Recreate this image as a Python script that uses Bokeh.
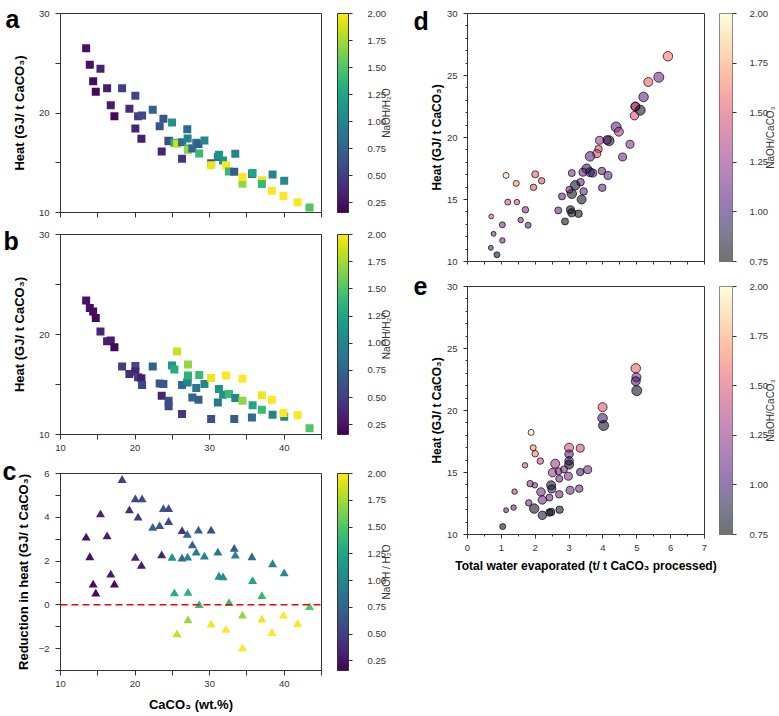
import math
from bokeh.plotting import figure
from bokeh.models import (ColumnDataSource, LinearColorMapper, ColorBar, FixedTicker,
                          Label, Span, PrintfTickFormatter, Range1d)
from bokeh.layouts import row, column
from bokeh.palettes import Viridis256, Magma256
from bokeh.embed import file_html
from bokeh.resources import INLINE

FONT = "Liberation Sans"

# ---------------- data: panels a, b, c ----------------
caco3 = [13.44, 13.93, 14.38, 14.73, 15.36, 16.25, 16.74, 17.23, 18.26, 19.24,
         20.04, 20.04, 20.40, 20.85, 20.94, 22.37, 23.30, 23.57, 23.80, 24.50,
         24.50, 24.96, 25.27, 25.63, 26.30, 26.30, 27.00, 27.05, 27.10, 27.10,
         27.68, 28.20, 28.50, 28.60, 29.30, 30.20, 30.20, 31.10, 31.25, 31.80,
         32.20, 32.60, 33.30, 33.44, 34.40, 34.40, 35.67, 35.76, 37.00, 37.00,
         38.35, 38.44, 40.00, 39.90, 41.80, 43.40]
naoh_h2o = [0.25, 0.25, 0.22, 0.20, 0.35, 0.30, 0.30, 0.20, 0.50, 0.40,
            0.55, 0.35, 0.50, 0.30, 0.55, 0.75, 0.65, 0.35, 0.65, 0.55,
            0.60, 1.10, 1.30, 1.85, 0.45, 0.80, 0.80, 1.00, 1.35, 1.70,
            0.75, 0.90, 0.70, 1.40, 1.00, 0.60, 1.95, 0.90, 1.10, 1.10,
            2.00, 1.40, 0.70, 1.00, 1.70, 2.00, 0.80, 1.25, 1.95, 1.40,
            2.00, 1.00, 1.05, 2.00, 2.00, 1.50]
heat_a = [26.52, 24.84, 23.20, 22.13, 24.44, 22.50, 20.79, 19.68, 22.50, 20.42,
          21.73, 18.44, 19.68, 17.40, 19.75, 20.32, 18.68, 16.13, 19.41, 17.20,
          17.15, 19.05, 17.00, 16.90, 15.39, 17.05, 18.37, 17.43, 16.42, 16.30,
          16.43, 17.02, 16.88, 15.93, 17.24, 14.95, 14.75, 15.58, 15.80, 15.22,
          14.75, 14.12, 14.10, 15.90, 12.88, 13.58, 13.86, 13.97, 13.25, 12.86,
          12.18, 13.82, 13.20, 11.67, 11.04, 10.50]
heat_b = [23.41, 22.64, 22.31, 21.64, 20.30, 19.33, 19.40, 18.73, 16.79, 16.05,
          16.86, 16.29, 15.72, 15.62, 14.95, 16.79, 15.10, 13.88, 15.05, 12.82,
          13.38, 16.89, 16.49, 18.29, 12.04, 14.95, 15.19, 15.29, 15.89, 17.00,
          13.70, 14.65, 13.48, 15.96, 15.05, 11.54, 15.66, 13.21, 14.55, 13.98,
          15.90, 14.06, 11.54, 13.65, 13.38, 15.57, 11.70, 12.92, 13.92, 12.48,
          13.48, 11.98, 11.78, 12.16, 11.93, 10.62]
reduction = [3.06, 2.16, 0.91, 0.50, 4.12, 3.11, 1.37, 0.91, 5.69, 4.30,
             4.80, 2.13, 3.97, 1.77, 4.80, 3.50, 3.58, 2.25, 4.36, 4.36,
             3.77, 2.13, 0.51, -1.36, 3.35, 2.10, 3.18, 2.14, 0.53, -0.72,
             2.70, 2.37, 3.38, -0.03, 2.19, 3.38, -0.92, 2.37, 1.27, 1.24,
             -1.16, 0.06, 2.54, 2.23, -0.51, -2.00, 2.16, 1.07, -0.69, 0.38,
             -1.30, 1.84, 1.42, -0.51, -0.89, -0.12]

# ---------------- data: panel d ----------------
d_water = [5.92, 5.65, 5.34, 5.20, 4.96, 4.96, 5.10, 4.93, 4.39, 4.47,
           4.18, 4.12, 3.90, 3.87, 3.82, 3.62, 4.80, 4.58, 3.52, 3.62,
           3.70, 3.41, 3.08, 3.97, 4.15, 3.34, 3.18, 3.08, 3.01, 3.43,
           3.37, 2.79, 3.98, 3.04, 3.08, 3.28, 2.68, 2.88, 1.14, 2.00,
           1.44, 1.95, 2.19, 1.19, 1.46, 1.71, 1.57, 1.79, 1.03, 0.70,
           0.77, 1.03, 0.69, 0.87]
d_heat = [26.55, 24.86, 24.48, 23.27, 22.50, 22.50, 22.20, 21.76, 20.85, 20.47,
          19.74, 19.80, 19.77, 19.07, 18.70, 18.48, 19.45, 18.43, 17.48, 17.20,
          17.13, 17.20, 17.13, 17.30, 16.94, 16.40, 16.14, 15.46, 15.79, 15.65,
          15.00, 15.25, 15.95, 14.17, 13.93, 13.85, 14.12, 13.23, 16.94, 17.03,
          16.30, 15.98, 16.51, 14.79, 14.79, 14.17, 13.34, 12.93, 12.96, 13.63,
          12.23, 11.70, 11.10, 10.54]
d_naoh_caco3 = [1.60, 1.15, 1.55, 1.10, 1.00, 1.50, 0.80, 1.50, 1.10, 1.30,
                0.80, 1.10, 1.30, 1.50, 1.50, 1.10, 1.20, 1.15, 0.90, 0.95,
                1.00, 1.10, 1.20, 1.15, 1.10, 1.10, 0.80, 0.80, 1.15, 1.10,
                0.80, 1.10, 1.10, 0.80, 0.80, 0.80, 1.10, 0.80, 1.90, 1.55,
                1.70, 1.50, 1.50, 1.50, 1.50, 1.20, 1.20, 1.10, 1.20, 1.50,
                1.15, 1.15, 1.10, 0.80]
d_naoh_h2o = [0.41, 0.25, 0.57, 0.41, 0.57, 0.73, 0.25, 0.73, 0.25, 0.57,
              0.25, 0.73, 0.89, 1.05, 0.89, 0.41, 0.89, 0.89, 0.41, 0.57,
              0.89, 0.89, 1.21, 1.05, 0.89, 1.05, 0.41, 0.41, 1.21, 1.05,
              0.57, 1.21, 1.05, 0.89, 0.89, 1.05, 1.21, 1.21, 1.53, 1.21,
              1.53, 1.37, 1.37, 1.53, 1.69, 1.37, 1.69, 1.53, 1.53, 1.91,
              1.85, 1.69, 1.85, 1.53]

# ---------------- data: panel e ----------------
e_water = [4.97, 4.99, 4.97, 5.00, 3.99, 3.99, 4.02, 1.88, 1.94, 2.00,
           2.15, 1.70, 3.00, 3.00, 3.00, 3.00, 3.33, 3.33, 3.55, 2.59,
           2.51, 2.69, 2.85, 2.71, 2.98, 2.47, 2.49, 2.17, 1.85, 1.99,
           1.39, 3.03, 3.30, 2.71, 2.42, 2.21, 1.81, 1.97, 2.21, 2.42,
           2.47, 2.72, 1.14, 1.36, 1.04]
e_heat = [23.40, 22.68, 22.36, 21.60, 20.27, 19.38, 18.79, 18.23, 17.00, 16.51,
          15.92, 15.58, 17.00, 16.48, 15.94, 15.64, 16.96, 15.04, 15.23, 15.71,
          14.99, 15.10, 15.25, 14.50, 14.70, 13.97, 13.67, 13.43, 14.10, 13.97,
          13.46, 13.57, 13.70, 13.24, 12.98, 12.79, 12.55, 12.09, 11.55, 11.77,
          11.82, 12.00, 11.96, 12.17, 10.64]
e_naoh_caco3 = [1.55, 1.20, 1.00, 0.80, 1.50, 1.00, 0.80, 1.95, 1.70, 1.65,
                1.45, 1.50, 1.50, 1.10, 1.00, 0.80, 1.45, 1.00, 1.15, 1.30,
                1.30, 1.15, 1.20, 1.15, 1.20, 0.85, 0.90, 1.15, 1.20, 1.25,
                1.35, 1.15, 1.15, 1.15, 1.15, 1.15, 1.15, 0.80, 0.85, 0.85,
                0.80, 0.80, 1.15, 1.15, 0.80]
e_naoh_h2o = [0.41, 0.57, 0.57, 0.25, 0.57, 0.41, 0.25, 1.53, 1.53, 1.37,
              1.37, 1.69, 0.57, 0.73, 0.73, 0.57, 0.89, 1.05, 0.89, 0.57,
              0.73, 1.21, 1.21, 1.21, 0.89, 0.57, 0.89, 0.73, 1.37, 1.69,
              1.69, 0.89, 1.05, 1.05, 1.21, 0.73, 1.37, 0.41, 0.73, 1.05,
              1.05, 1.05, 1.85, 1.69, 1.53]

cbar_ticks_left = [0.25, 0.50, 0.75, 1.00, 1.25, 1.50, 1.75, 2.00]
cbar_ticks_right = [0.75, 1.00, 1.25, 1.50, 1.75, 2.00]

AX = "#333333"
SLOT = 12   # width taken in the right side panel by the colour-bar title label


def marker_size(v):
    # circle diameter (px) shrinks with NaOH/H2O
    return 10.8 - 3.14 * v


def base_fig(fw, fh, bl, br, bt, bb, xr, yr):
    p = figure(frame_width=fw, frame_height=fh, min_border_left=bl, min_border_right=br,
               min_border_top=bt, min_border_bottom=bb,
               x_range=Range1d(*xr), y_range=Range1d(*yr),
               output_backend="svg", toolbar_location=None, tools="")
    p.xgrid.visible = False
    p.ygrid.visible = False
    p.outline_line_color = AX
    p.outline_line_width = 1
    p.outline_line_alpha = 1
    p.background_fill_color = "white"
    p.border_fill_color = "white"
    for ax in (p.xaxis[0], p.yaxis[0]):
        ax.axis_line_color = AX
        ax.major_tick_line_color = AX
        ax.minor_tick_line_color = AX
        ax.major_tick_in = 0
        ax.minor_tick_in = 0
        ax.major_label_text_font = FONT
        ax.major_label_text_font_size = "9.5px"
        ax.major_label_text_color = AX
        ax.axis_label_text_font = FONT
        ax.axis_label_text_font_style = "bold"
        ax.axis_label_text_color = "black"
    return p


def add_label(p, text, sx, sy, size, bold=False, angle=0.0, align="left",
              baseline="alphabetic", color="black"):
    # placed in the right side panel so it is not clipped to the frame;
    # sx is measured from the panel slot's left edge, sy from the frame's bottom
    p.add_layout(Label(x=sx, y=sy, x_units="screen", y_units="screen", text=text,
                       text_font=FONT, text_font_size=size,
                       text_font_style="bold" if bold else "normal",
                       angle=angle, text_align=align, text_baseline=baseline,
                       text_color=color), "right")


def add_cbar(p, mapper, ticks, x_off, width, standoff, alpha=1.0):
    cb = ColorBar(color_mapper=mapper, ticker=FixedTicker(ticks=ticks),
                  formatter=PrintfTickFormatter(format="%.2f"),
                  location=(x_off, 0), width=width, height=p.frame_height,
                  padding=0, margin=0, major_tick_in=0, major_tick_out=4,
                  major_tick_line_color=AX, minor_tick_line_color=None,
                  bar_line_color=AX, bar_line_width=1, border_line_color=None,
                  background_fill_color=None, background_fill_alpha=0,
                  major_label_text_font=FONT, major_label_text_font_size="9.5px",
                  major_label_text_color=AX, label_standoff=standoff, scale_alpha=alpha)
    p.add_layout(cb, "center")


vir = LinearColorMapper(palette=Viridis256, low=0.16, high=2.0)
mag = LinearColorMapper(palette=Magma256, low=0.75, high=2.0)

src_abc = ColumnDataSource(dict(x=caco3, r=naoh_h2o, a=heat_a, b=heat_b, c=reduction))

# ---------------- left column ----------------
LW, LBL, LBR = 261, 60, 74
LFR = 321  # frame right edge (page px)


def left_axes(p, ymaj, ymin, xlabels=True, ylab_standoff=9):
    if xlabels:
        p.xaxis.ticker = FixedTicker(ticks=[10, 20, 30, 40], minor_ticks=[15, 25, 35, 45])
    else:
        p.xaxis.ticker = FixedTicker(ticks=[], minor_ticks=[10, 15, 20, 25, 30, 35, 40, 45])
    p.yaxis.ticker = FixedTicker(ticks=ymaj, minor_ticks=ymin)
    for ax in (p.xaxis[0], p.yaxis[0]):
        ax.major_tick_out = 5
        ax.minor_tick_out = 5
    p.yaxis.major_label_standoff = 6
    p.yaxis.axis_label_standoff = ylab_standoff
    p.yaxis.axis_label_text_font_size = "13px"
    p.xaxis.axis_label_text_font_size = "13px"
    p.xaxis.major_label_standoff = 5


# panel a  (page: frame top 13, bottom 212; figure 0..219)
pa = base_fig(LW, 199, LBL, LBR, 13, 7, (10, 45), (10, 30))
left_axes(pa, [10, 20, 30], [15, 25], xlabels=False)
pa.yaxis.axis_label = "Heat (GJ/ t CaCO₃)"
pa.scatter("x", "a", source=src_abc, marker="square", size=8,
           fill_color={"field": "r", "transform": vir}, line_color=None)
add_cbar(pa, vir, cbar_ticks_left, 277, 11, 15)
add_label(pa, "NaOH/H₂O", 65, 99.5, "10px", angle=math.pi / 2, align="center",
          baseline="middle", color=AX)
add_label(pa, "a", 6 - LFR - SLOT, 193.5, "25px", bold=True)

# panel b  (page: frame top 234, bottom 434; figure 219..456)
pb = base_fig(LW, 200, LBL, LBR, 15, 22, (10, 45), (10, 30))
left_axes(pb, [10, 20, 30], [15, 25])
pb.yaxis.axis_label = "Heat (GJ/ t CaCO₃)"
pb.scatter("x", "b", source=src_abc, marker="square", size=8,
           fill_color={"field": "r", "transform": vir}, line_color=None)
add_cbar(pb, vir, cbar_ticks_left, 277, 11, 15)
add_label(pb, "NaOH/H₂O", 65, 100, "10px", angle=math.pi / 2, align="center",
          baseline="middle", color=AX)
add_label(pb, "b", 4 - LFR - SLOT, 194, "25px", bold=True)

# panel c  (page: frame top 473, bottom 670)
pc = base_fig(LW, 197, LBL, LBR, 17, 42, (10, 45), (-3, 6))
left_axes(pc, [-2, 0, 2, 4, 6], [-3, -1, 1, 3, 5], ylab_standoff=5)
pc.yaxis.major_label_overrides = {-2: "−2"}
pc.yaxis.axis_label = "Reduction in heat (GJ/ t CaCO₃)"
pc.xaxis.axis_label = "CaCO₃ (wt.%)"
pc.xaxis.axis_label_standoff = 7
pc.add_layout(Span(location=0, dimension="width", line_color="red",
                   line_dash="7 4", line_width=1.5))
pc.scatter("x", "c", source=src_abc, marker="triangle", size=9,
           fill_color={"field": "r", "transform": vir}, line_color=None)
add_cbar(pc, vir, cbar_ticks_left, 277, 11, 15)
add_label(pc, "NaOH / H₂O", 65, 98.5, "10px", angle=math.pi / 2, align="center",
          baseline="middle", color=AX)
add_label(pc, "c", 3 - LFR - SLOT, 200, "25px", bold=True)

# ---------------- right column ----------------
RW, RBL, RBR = 237, 72, 75
RFR = 704  # frame right edge (page px)


def right_axes(p, xlabels=True):
    if xlabels:
        p.xaxis.ticker = FixedTicker(ticks=[0, 1, 2, 3, 4, 5, 6, 7],
                                     minor_ticks=[0.5, 1.5, 2.5, 3.5, 4.5, 5.5, 6.5])
    else:
        p.xaxis.ticker = FixedTicker(ticks=[], minor_ticks=[i * 0.5 for i in range(15)])
    p.yaxis.ticker = FixedTicker(ticks=[10, 15, 20, 25, 30],
                                 minor_ticks=[v for v in range(11, 30) if v % 5])
    for ax in (p.xaxis[0], p.yaxis[0]):
        ax.major_tick_out = 4
        ax.minor_tick_out = 2
    if not xlabels:
        p.xaxis.minor_tick_out = 3
    p.yaxis.major_label_standoff = 6
    p.yaxis.axis_label_standoff = 0
    p.yaxis.axis_label_text_font_size = "12px"
    p.xaxis.axis_label_text_font_size = "12px"
    p.xaxis.major_label_standoff = 6
    p.xaxis.axis_label_standoff = 5


src_d = ColumnDataSource(dict(x=d_water, y=d_heat, r=d_naoh_caco3,
                              s=[marker_size(v) for v in d_naoh_h2o]))
src_e = ColumnDataSource(dict(x=e_water, y=e_heat, r=e_naoh_caco3,
                              s=[marker_size(v) for v in e_naoh_h2o]))

# panel d  (page: frame top 13, bottom 261; figure 0..269)
pd_ = base_fig(RW, 248, RBL, RBR, 13, 8, (0, 7), (10, 30))
right_axes(pd_, xlabels=False)
pd_.yaxis.axis_label = "Heat (GJ/ t CaCO₃)"
pd_.scatter("x", "y", source=src_d, marker="circle", size="s",
            fill_color={"field": "r", "transform": mag}, fill_alpha=0.55,
            line_color="black", line_alpha=0.7, line_width=1)
add_cbar(pd_, mag, cbar_ticks_right, 252, 13, 13, alpha=0.55)
add_label(pd_, "NaOH/CaCO₃", 66, 124, "10px", angle=math.pi / 2, align="center",
          baseline="middle", color=AX)
add_label(pd_, "d", 414 - RFR - SLOT, 241, "25px", bold=True)

# panel e  (page: frame top 286, bottom 534)
pe = base_fig(RW, 248, RBL, RBR, 17, 50, (0, 7), (10, 30))
right_axes(pe)
pe.yaxis.axis_label = "Heat (GJ/ t CaCO₃)"
pe.xaxis.axis_label = "Total water evaporated (t/ t CaCO₃ processed)"
pe.scatter("x", "y", source=src_e, marker="circle", size="s",
           fill_color={"field": "r", "transform": mag}, fill_alpha=0.55,
           line_color="black", line_alpha=0.7, line_width=1)
add_cbar(pe, mag, cbar_ticks_right, 252, 13, 13, alpha=0.55)
add_label(pe, "NaOH/CaCO₃", 66, 124, "10px", angle=math.pi / 2, align="center",
          baseline="middle", color=AX)
add_label(pe, "e", 414 - RFR - SLOT, 248.5, "25px", bold=True)

layout = row(column(pa, pb, pc), column(pd_, pe))

open("out.html", "w").write(file_html(layout, INLINE))
